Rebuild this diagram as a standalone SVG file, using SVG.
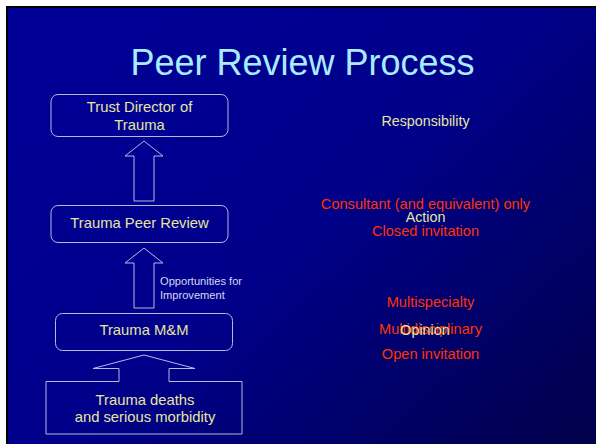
<svg xmlns="http://www.w3.org/2000/svg" width="596" height="444" viewBox="0 0 596 444">
  <defs>
    <linearGradient id="bg" x1="0" y1="0.2" x2="1" y2="1">
      <stop offset="0" stop-color="#000096"/>
      <stop offset="0.45" stop-color="#00008a"/>
      <stop offset="1" stop-color="#00004a"/>
    </linearGradient>
    <style>
      .box { fill: none; stroke: #b8b8e0; stroke-width: 1; }
      .lbl { font-family: "Liberation Sans", Arial, sans-serif; font-size: 14.8px; fill: #e6e6a0; text-anchor: middle; }
      .red { font-family: "Liberation Sans", Arial, sans-serif; font-size: 14.6px; fill: #ff3300; text-anchor: middle; }
      .yel { font-family: "Liberation Sans", Arial, sans-serif; font-size: 14.3px; fill: #e6e6a0; text-anchor: middle; }
      .small { font-family: "Liberation Sans", Arial, sans-serif; font-size: 11.1px; fill: #d8d8f0; }
    </style>
  </defs>
  <rect x="0" y="0" width="596" height="444" fill="#ffffff"/>
  <rect x="6" y="6" width="590" height="438" fill="#000000"/>
  <rect x="8" y="8" width="588" height="436" fill="url(#bg)"/>

  <text x="302.5" y="75" font-family="Liberation Sans, Arial, sans-serif" font-size="36" fill="#a8ecff" text-anchor="middle">Peer Review Process</text>

  <g id="connectors">
    <path class="box" d="M144,141 L163,156 L154,156 L154,201 L134,201 L134,156 L125,156 Z"/>
    <path class="box" d="M144,248 L163,263 L154,263 L154,308 L134,308 L134,263 L125,263 Z"/>
    <text class="small" x="160" y="285">Opportunities for</text>
    <text class="small" x="160" y="299">Improvement</text>
  </g>

  <g id="node-director">
    <rect class="box" x="51" y="94.5" width="177" height="42" rx="7"/>
    <text class="lbl" x="139.5" y="112">Trust Director of</text>
    <text class="lbl" x="139.5" y="130">Trauma</text>
  </g>

  <g id="node-peer-review">
    <rect class="box" x="51" y="205.5" width="177" height="37" rx="7"/>
    <text class="lbl" x="139.5" y="228">Trauma Peer Review</text>
  </g>

  <g id="node-mm">
    <rect class="box" x="55.5" y="313.5" width="177" height="37" rx="7"/>
    <text class="lbl" x="144" y="335">Trauma M&amp;M</text>
  </g>

  <g id="node-deaths">
    <path class="box" d="M144,355 L195,368.5 L169,368.5 L169,381.5 L242,381.5 L242,434 L46,434 L46,381.5 L119,381.5 L119,368.5 L93,368.5 Z"/>
    <text class="lbl" x="145" y="405">Trauma deaths</text>
    <text class="lbl" x="145" y="422">and serious morbidity</text>
  </g>

  <g id="notes">
    <text class="yel" x="425.5" y="125.5">Responsibility</text>
    <text class="red" x="425.5" y="208.5">Consultant (and equivalent) only</text>
    <text class="yel" x="425.5" y="222">Action</text>
    <text class="red" x="425.5" y="235.5">Closed invitation</text>
    <text class="red" x="430.5" y="306.5">Multispecialty</text>
    <text class="red" x="430.5" y="333.5">Multidisciplinary</text>
    <text class="yel" x="425" y="335">Opinion</text>
    <text class="red" x="430.5" y="358.5">Open invitation</text>
  </g>
</svg>
